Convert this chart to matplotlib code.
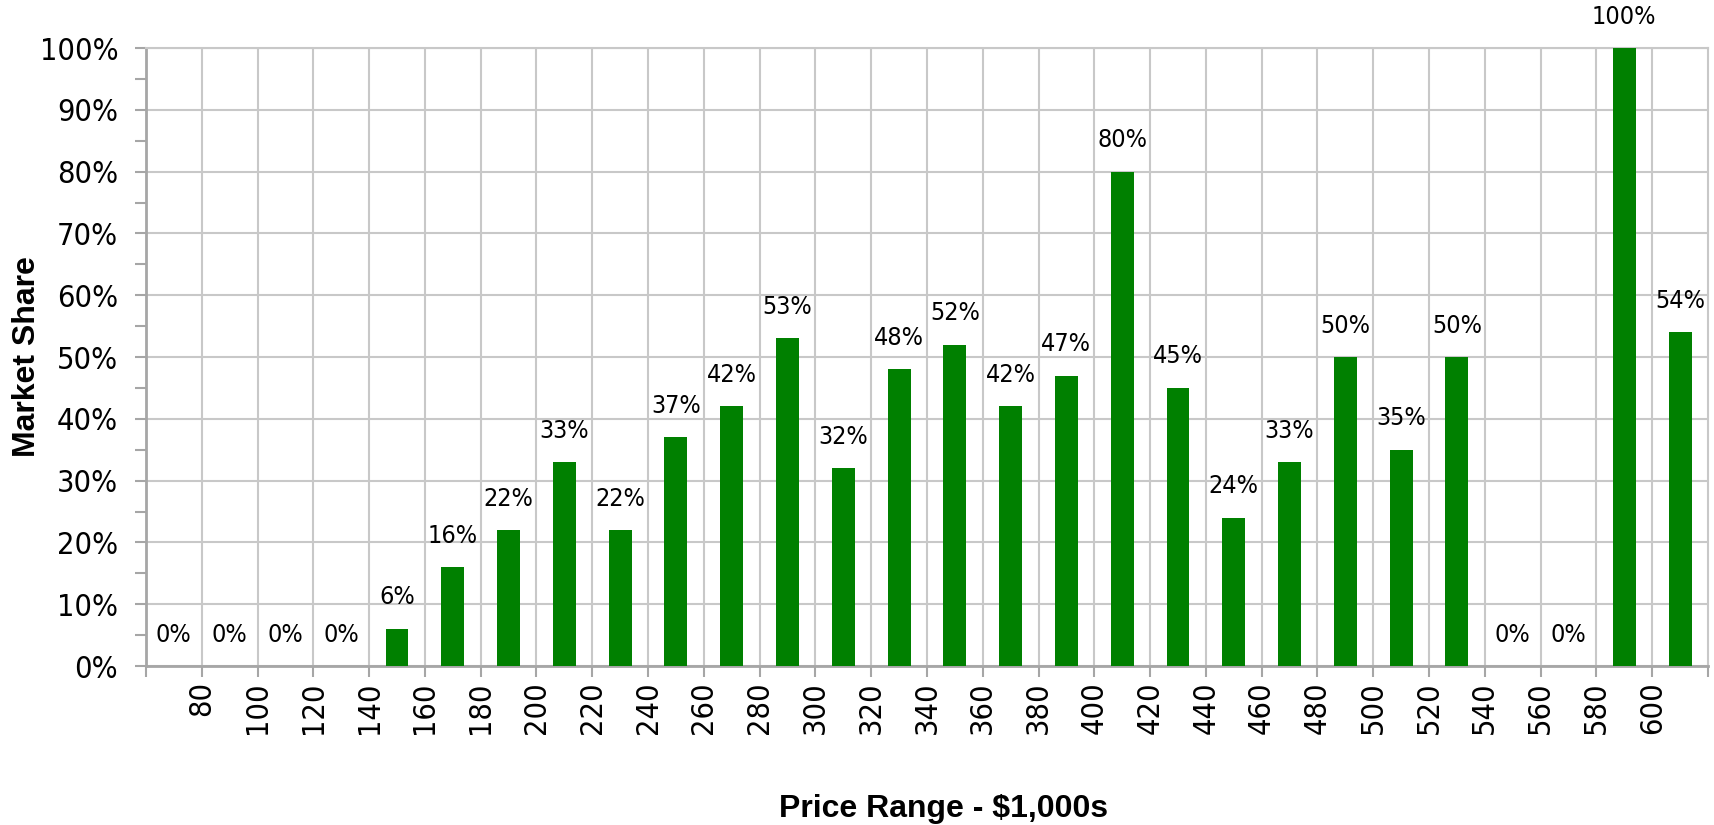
import matplotlib
matplotlib.use("Agg")
from matplotlib import pyplot as plt
from matplotlib import font_manager
from matplotlib.ticker import MultipleLocator, PercentFormatter, FixedLocator

# market share (%) per $20k price bucket
share = [0, 0, 0, 0, 6, 16, 22, 33, 22, 37, 42, 53, 32, 48, 52, 42, 47, 80,
         45, 24, 33, 50, 35, 50, 0, 0, 100, 54]
bounds = [80, 100, 120, 140, 160, 180, 200, 220, 240, 260, 280, 300, 320, 340,
          360, 380, 400, 420, 440, 460, 480, 500, 520, 540, 560, 580, 600]

narrow = font_manager.FontProperties(family='DejaVu Sans', stretch='condensed')
bold = ['Liberation Sans', 'DejaVu Sans']
grey = '#a6a6a6'
grid = '#c8c8c8'

fig = plt.figure(figsize=(17.15, 8.25), dpi=100)
ax = fig.add_axes([0.0851, 0.1927, 0.9108, 0.7491])

x = list(range(len(share)))
ax.bar(x, share, width=0.41, color='#008000', zorder=3)

for xi, v in zip(x, share):
    ax.annotate(f"{v}%", (xi, v), xytext=(0, 14), textcoords='offset points',
                ha='center', va='bottom', fontproperties=narrow, fontsize=18,
                clip_on=False, annotation_clip=False)

ax.set_xlim(-0.5, len(share) - 0.5)
ax.set_ylim(0, 100)

# category boundaries carry the labels
edges = [i + 0.5 for i in range(len(bounds))]
ax.xaxis.set_major_locator(FixedLocator(edges))
ax.set_xticklabels([str(b) for b in bounds], rotation=90)
ax.xaxis.set_minor_locator(FixedLocator([-0.5, len(share) - 0.5]))

ax.yaxis.set_major_locator(MultipleLocator(10))
ax.yaxis.set_minor_locator(MultipleLocator(5))
ax.yaxis.set_major_formatter(PercentFormatter(decimals=0))
for t in ax.get_xticklabels() + ax.get_yticklabels():
    t.set_fontproperties(narrow)
    t.set_fontsize(22)

ax.tick_params(axis='both', which='both', direction='out', length=8, width=1.5, color=grey)
ax.tick_params(axis='y', which='major', pad=12)
ax.tick_params(axis='x', which='major', pad=3)

ax.grid(True, which='major', color=grid, linewidth=1.5, zorder=0)
ax.set_axisbelow(True)

for side in ['top', 'right']:
    ax.spines[side].set_color(grid)
    ax.spines[side].set_linewidth(1.5)
for side in ['left', 'bottom']:
    ax.spines[side].set_color(grey)
    ax.spines[side].set_linewidth(2)

fig.text(27 / 1715, 0.5674, 'Market Share', rotation=90, ha='center', va='center',
         fontsize=23, fontweight='bold', family=bold)
fig.text(0.55, 1 - 809 / 825, 'Price Range - $1,000s', ha='center', va='center',
         fontsize=23, fontweight='bold', family=bold)

fig.savefig('out.png', dpi=100)
